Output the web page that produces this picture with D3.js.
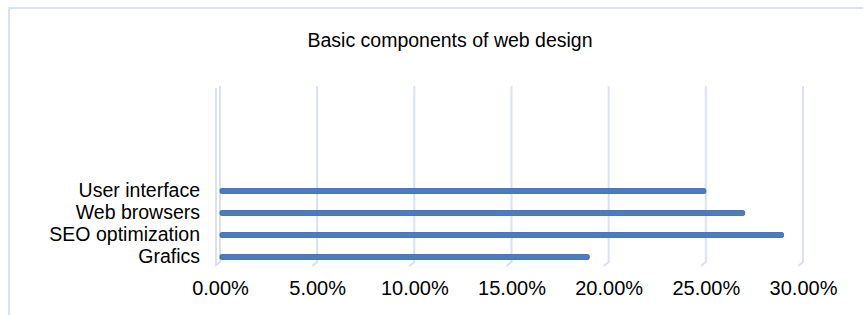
<!DOCTYPE html>
<html>
<head>
<meta charset="utf-8">
<script src="https://cdn.jsdelivr.net/npm/d3@7"></script>
<style>
body{margin:0;background:#fff;}
text{font-family:"Liberation Sans",Arial,sans-serif;fill:#000;}
</style>
</head>
<body>
<svg id="chart" width="863" height="315"></svg>
<script>
var categories=["User interface","Web browsers","SEO optimization","Grafics"];
var values=[0.25,0.27,0.29,0.19];
var ticks=[0,0.05,0.10,0.15,0.20,0.25,0.30];
var title="Basic components of web design";

var svg=d3.select("#chart");
// frame
svg.append("rect").attr("x",9).attr("y",8).attr("width",900).attr("height",400)
  .attr("fill","none").attr("stroke","#dae3f3").attr("stroke-width",2);

svg.append("text").attr("x",450).attr("y",47).attr("text-anchor","middle")
  .attr("font-size",19.5).text(title);

var x=d3.scaleLinear().domain([0,0.30]).range([220,803]);
var y=d3.scaleBand().domain(categories).range([180,268]);

var wallTop=86, floorY=262;
// back wall gridlines (3d look)
svg.selectAll("path.grid").data(ticks).enter().append("path")
  .attr("class","grid")
  .attr("d",function(d){return "M"+x(d)+","+wallTop+"V"+floorY+"l-5,4";})
  .attr("fill","none").attr("stroke","#d9e1f2").attr("stroke-width",2);
svg.append("line").attr("x1",x(0)-4).attr("x2",x(0)-4).attr("y1",wallTop+2).attr("y2",floorY+4)
  .attr("stroke","#d9e1f2").attr("stroke-width",2);

svg.selectAll("rect.bar").data(values).enter().append("rect")
  .attr("class","bar")
  .attr("x",x(0))
  .attr("y",function(d,i){return y(categories[i])+y.bandwidth()/2-2.5;})
  .attr("width",function(d){return x(d)-x(0);})
  .attr("height",5)
  .attr("rx",1.5)
  .attr("fill","#4a7cc0").attr("stroke","#3a64a0").attr("stroke-width",0.8);

svg.selectAll("text.cat").data(categories).enter().append("text")
  .attr("class","cat")
  .attr("x",200).attr("y",function(d){return y(d)+y.bandwidth()/2+6;})
  .attr("text-anchor","end").attr("font-size",19.5).text(function(d){return d;});

var axis=d3.axisBottom(x).tickValues(ticks).tickFormat(d3.format(".2%")).tickSize(0).tickPadding(0);
var g=svg.append("g").attr("transform","translate(0,281)").call(axis);
g.select(".domain").remove();
g.selectAll("text").attr("font-size",20).attr("dy","0.71em")
  .style("font-family","'Liberation Sans',Arial,sans-serif").attr("fill","#000");
</script>
</body>
</html>
